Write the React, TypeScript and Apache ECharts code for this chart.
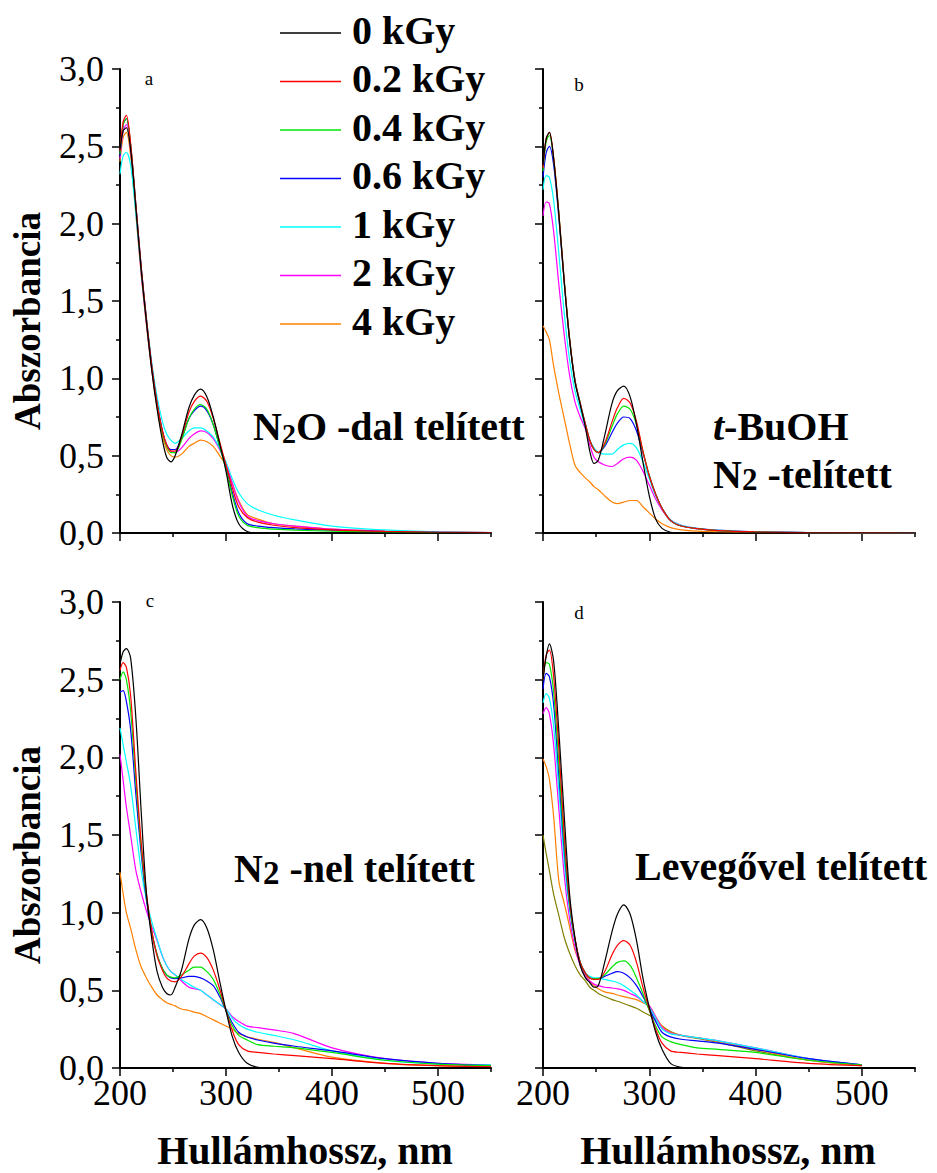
import React, { useEffect, useRef } from 'react';
import * as echarts from 'echarts';

const FONT = 'Liberation Serif';

const doseLabels = ['0 kGy', '0.2 kGy', '0.4 kGy', '0.6 kGy', '1 kGy', '2 kGy', '4 kGy'];
const doseColors = ['#000000', '#ff0000', '#00e600', '#0000ff', '#00ffff', '#ff00ff', '#ff8000'];
const extraColor = '#808000';

const xMajorTicks = [200, 300, 400, 500];
const xMinorTicks = [250, 350, 450, 550];

const wavelengths = [200, 203, 206, 210, 215, 220, 225, 230, 235, 240, 244, 248, 252, 258, 265, 270, 276, 282, 288, 294, 300, 306, 312, 320, 330, 345, 365, 400, 450, 500, 550];
const wavelengthsAir = [200, 203, 206, 210, 215, 220, 225, 230, 235, 240, 244, 248, 252, 258, 265, 270, 276, 282, 288, 294, 300, 306, 312, 320, 330, 345, 365, 400, 450, 500];

// a: N2O-dal telített
const n2oCurves = [
  [2.48, 2.60, 2.62, 2.48, 2.10, 1.70, 1.36, 1.05, 0.80, 0.60, 0.49, 0.46, 0.50, 0.63, 0.81, 0.89, 0.93, 0.88, 0.75, 0.58, 0.40, 0.18, 0.06, 0.01, 0, 0, 0, 0, 0, 0, 0],
  [2.47, 2.66, 2.70, 2.52, 2.12, 1.72, 1.38, 1.08, 0.84, 0.66, 0.57, 0.53, 0.53, 0.62, 0.78, 0.85, 0.885, 0.85, 0.74, 0.59, 0.44, 0.29, 0.17, 0.10, 0.07, 0.05, 0.035, 0.02, 0.01, 0.005, 0.002],
  [2.45, 2.64, 2.68, 2.51, 2.11, 1.71, 1.37, 1.07, 0.83, 0.65, 0.56, 0.52, 0.52, 0.60, 0.74, 0.80, 0.83, 0.80, 0.70, 0.56, 0.41, 0.24, 0.11, 0.05, 0.035, 0.025, 0.018, 0.012, 0.006, 0.003, 0.001],
  [2.44, 2.64, 2.68, 2.51, 2.12, 1.72, 1.38, 1.08, 0.84, 0.66, 0.57, 0.54, 0.54, 0.61, 0.74, 0.79, 0.82, 0.79, 0.70, 0.56, 0.42, 0.26, 0.13, 0.06, 0.045, 0.035, 0.027, 0.018, 0.009, 0.004, 0.002],
  [2.32, 2.44, 2.46, 2.38, 2.06, 1.70, 1.38, 1.10, 0.88, 0.72, 0.64, 0.60, 0.58, 0.61, 0.66, 0.68, 0.68, 0.66, 0.62, 0.55, 0.46, 0.35, 0.26, 0.19, 0.15, 0.115, 0.085, 0.045, 0.02, 0.008, 0.003],
  [2.42, 2.60, 2.64, 2.48, 2.08, 1.68, 1.35, 1.06, 0.83, 0.66, 0.57, 0.53, 0.52, 0.55, 0.61, 0.64, 0.66, 0.65, 0.61, 0.54, 0.45, 0.32, 0.20, 0.11, 0.08, 0.06, 0.045, 0.025, 0.012, 0.006, 0.003],
  [2.40, 2.56, 2.59, 2.44, 2.06, 1.67, 1.34, 1.05, 0.81, 0.63, 0.54, 0.50, 0.49, 0.51, 0.56, 0.58, 0.60, 0.59, 0.56, 0.50, 0.44, 0.32, 0.21, 0.12, 0.09, 0.06, 0.045, 0.025, 0.012, 0.006, 0.003],
];

// b: t-BuOH, N2-telített
const tbuohCurves = [
  [2.38, 2.55, 2.59, 2.42, 2.05, 1.62, 1.25, 0.98, 0.83, 0.68, 0.53, 0.45, 0.47, 0.63, 0.84, 0.92, 0.95, 0.88, 0.70, 0.46, 0.24, 0.09, 0.03, 0.005, 0, 0, 0, 0, 0, 0, 0],
  [2.36, 2.55, 2.59, 2.43, 2.06, 1.63, 1.26, 0.99, 0.84, 0.70, 0.60, 0.54, 0.52, 0.58, 0.72, 0.81, 0.87, 0.84, 0.72, 0.53, 0.37, 0.25, 0.16, 0.08, 0.045, 0.028, 0.015, 0.007, 0.002, 0.001, 0],
  [2.34, 2.53, 2.57, 2.42, 2.06, 1.63, 1.26, 0.99, 0.84, 0.70, 0.60, 0.54, 0.52, 0.57, 0.69, 0.77, 0.82, 0.80, 0.70, 0.53, 0.37, 0.25, 0.16, 0.08, 0.045, 0.028, 0.015, 0.007, 0.002, 0.001, 0],
  [2.30, 2.46, 2.50, 2.38, 2.03, 1.62, 1.25, 0.99, 0.84, 0.70, 0.60, 0.54, 0.52, 0.56, 0.65, 0.71, 0.75, 0.74, 0.66, 0.52, 0.37, 0.25, 0.16, 0.08, 0.045, 0.028, 0.015, 0.007, 0.002, 0.001, 0],
  [2.22, 2.31, 2.30, 2.15, 1.80, 1.42, 1.12, 0.92, 0.80, 0.68, 0.60, 0.55, 0.52, 0.51, 0.51, 0.54, 0.57, 0.58, 0.55, 0.46, 0.35, 0.24, 0.16, 0.085, 0.05, 0.03, 0.018, 0.008, 0.003, 0.001, 0],
  [2.05, 2.14, 2.13, 1.95, 1.60, 1.28, 1.02, 0.85, 0.75, 0.67, 0.57, 0.49, 0.46, 0.44, 0.43, 0.45, 0.48, 0.49, 0.47, 0.40, 0.31, 0.22, 0.15, 0.085, 0.05, 0.03, 0.018, 0.008, 0.003, 0.001, 0],
  [1.34, 1.30, 1.25, 1.08, 0.90, 0.74, 0.58, 0.44, 0.39, 0.355, 0.33, 0.30, 0.28, 0.24, 0.20, 0.19, 0.20, 0.21, 0.21, 0.17, 0.13, 0.09, 0.06, 0.035, 0.02, 0.012, 0.007, 0.003, 0.001, 0, 0],
];

// c: N2-nel telített
const n2Curves = [
  [2.60, 2.68, 2.70, 2.64, 2.25, 1.65, 1.12, 0.83, 0.62, 0.52, 0.48, 0.47, 0.52, 0.63, 0.83, 0.92, 0.955, 0.90, 0.76, 0.56, 0.37, 0.20, 0.10, 0.03, 0.005, 0, 0, 0, 0, 0, 0],
  [2.56, 2.61, 2.58, 2.40, 1.90, 1.45, 1.12, 0.88, 0.72, 0.63, 0.58, 0.56, 0.555, 0.59, 0.67, 0.72, 0.74, 0.71, 0.63, 0.51, 0.37, 0.24, 0.15, 0.11, 0.10, 0.09, 0.08, 0.06, 0.03, 0.015, 0.008],
  [2.50, 2.55, 2.50, 2.30, 1.84, 1.42, 1.10, 0.88, 0.73, 0.64, 0.60, 0.585, 0.58, 0.60, 0.63, 0.65, 0.65, 0.62, 0.57, 0.48, 0.37, 0.27, 0.21, 0.18, 0.15, 0.14, 0.13, 0.10, 0.05, 0.025, 0.015],
  [2.42, 2.43, 2.36, 2.18, 1.76, 1.38, 1.08, 0.87, 0.73, 0.64, 0.60, 0.58, 0.575, 0.58, 0.59, 0.59, 0.58, 0.56, 0.53, 0.46, 0.37, 0.29, 0.23, 0.20, 0.18, 0.16, 0.14, 0.11, 0.06, 0.03, 0.015],
  [2.19, 2.08, 1.97, 1.82, 1.54, 1.27, 1.08, 0.94, 0.83, 0.72, 0.66, 0.62, 0.60, 0.57, 0.54, 0.52, 0.50, 0.47, 0.44, 0.41, 0.38, 0.32, 0.28, 0.25, 0.23, 0.21, 0.18, 0.11, 0.05, 0.025, 0.02],
  [2.02, 1.85, 1.68, 1.50, 1.27, 1.13, 1.01, 0.91, 0.82, 0.72, 0.66, 0.62, 0.60, 0.56, 0.52, 0.51, 0.50, 0.47, 0.44, 0.41, 0.38, 0.33, 0.30, 0.27, 0.26, 0.245, 0.22, 0.13, 0.06, 0.03, 0.02],
  [1.26, 1.12, 1.00, 0.90, 0.76, 0.65, 0.58, 0.52, 0.47, 0.44, 0.42, 0.41, 0.40, 0.38, 0.37, 0.36, 0.35, 0.33, 0.31, 0.29, 0.27, 0.25, 0.22, 0.20, 0.185, 0.165, 0.13, 0.07, 0.03, 0.015, 0.01],
];

// d: Levegővel telített (last curve: extra olive trace)
const airCurves = [
  [2.50, 2.65, 2.73, 2.62, 2.16, 1.62, 1.12, 0.84, 0.66, 0.58, 0.55, 0.52, 0.53, 0.68, 0.88, 0.99, 1.05, 0.99, 0.82, 0.58, 0.39, 0.23, 0.12, 0.03, 0.005, 0, 0, 0, 0, 0],
  [2.50, 2.66, 2.69, 2.52, 2.05, 1.50, 1.08, 0.84, 0.68, 0.61, 0.58, 0.57, 0.57, 0.62, 0.73, 0.79, 0.82, 0.79, 0.68, 0.52, 0.38, 0.25, 0.16, 0.11, 0.10, 0.09, 0.08, 0.06, 0.03, 0.015],
  [2.50, 2.61, 2.60, 2.42, 1.95, 1.44, 1.06, 0.83, 0.68, 0.61, 0.58, 0.575, 0.575, 0.60, 0.65, 0.68, 0.69, 0.66, 0.58, 0.48, 0.37, 0.27, 0.20, 0.17, 0.15, 0.13, 0.12, 0.10, 0.05, 0.02],
  [2.44, 2.54, 2.52, 2.34, 1.88, 1.40, 1.05, 0.83, 0.68, 0.61, 0.58, 0.575, 0.575, 0.59, 0.61, 0.62, 0.61, 0.58, 0.53, 0.46, 0.38, 0.30, 0.23, 0.20, 0.185, 0.175, 0.16, 0.12, 0.06, 0.02],
  [2.35, 2.41, 2.38, 2.20, 1.78, 1.33, 1.02, 0.82, 0.68, 0.61, 0.59, 0.58, 0.58, 0.57, 0.56, 0.55, 0.53, 0.50, 0.47, 0.43, 0.39, 0.32, 0.25, 0.22, 0.21, 0.195, 0.175, 0.13, 0.06, 0.02],
  [2.28, 2.32, 2.28, 2.08, 1.66, 1.24, 0.96, 0.78, 0.66, 0.59, 0.56, 0.54, 0.53, 0.52, 0.515, 0.51, 0.50, 0.48, 0.46, 0.43, 0.40, 0.33, 0.26, 0.225, 0.21, 0.195, 0.175, 0.13, 0.06, 0.02],
  [1.99, 1.94, 1.86, 1.62, 1.20, 1.06, 0.91, 0.76, 0.67, 0.60, 0.56, 0.53, 0.51, 0.49, 0.48, 0.47, 0.46, 0.45, 0.44, 0.42, 0.40, 0.33, 0.27, 0.23, 0.21, 0.195, 0.17, 0.12, 0.05, 0.015],
  [1.50, 1.38, 1.27, 1.12, 0.98, 0.84, 0.74, 0.66, 0.60, 0.56, 0.52, 0.50, 0.48, 0.46, 0.44, 0.43, 0.415, 0.40, 0.385, 0.36, 0.34, 0.31, 0.27, 0.235, 0.21, 0.19, 0.165, 0.11, 0.05, 0.015],
];

const panelLetters = ['a', 'b', 'c', 'd'];
const yAxisTitle = 'Abszorbancia';
const xAxisTitle = 'Hullámhossz, nm';

const panels = [
  { curves: n2oCurves, x: wavelengths, grid: { left: 120, top: 69, width: 371, height: 464 }, showX: false, showY: true, letter: [149, 78] },
  { curves: tbuohCurves, x: wavelengths, grid: { left: 543, top: 69, width: 372, height: 464 }, showX: false, showY: false, letter: [579, 84] },
  { curves: n2Curves, x: wavelengths, grid: { left: 120, top: 602, width: 371, height: 466 }, showX: true, showY: true, letter: [150, 600] },
  { curves: airCurves, x: wavelengthsAir, grid: { left: 543, top: 602, width: 372, height: 466 }, showX: true, showY: false, letter: [579, 612] },
];

const AXIS_COLOR = '#000';

function textEl(x: number, y: number, text: string, size: number, bold: boolean, extra: any = {}) {
  return {
    type: 'text',
    x,
    y,
    silent: true,
    ...extra,
    style: {
      text,
      fontSize: size,
      fontWeight: bold ? 'bold' : 'normal',
      fontFamily: FONT,
      fill: '#000',
      align: extra.align || 'left',
      textAlign: extra.align || 'left',
      verticalAlign: 'middle',
      textVerticalAlign: 'middle',
      ...(extra.style || {}),
    },
  };
}

export default function App() {
  const ref = useRef<HTMLDivElement>(null);

  useEffect(() => {
    if (!ref.current) return;
    const chart = echarts.init(ref.current, null, { renderer: 'svg' });

    const grid: any[] = [];
    const xAxis: any[] = [];
    const yAxis: any[] = [];
    const series: any[] = [];

    const tickLabelStyle = {
      fontSize: 36,
      fontFamily: FONT,
      fontWeight: 'normal',
      fontStyle: 'normal',
      color: '#000',
    };

    panels.forEach((p, pi) => {
      grid.push({ ...p.grid, containLabel: false });
      xAxis.push({
        type: 'value',
        gridIndex: pi,
        position: 'bottom',
        min: 200,
        max: 550,
        interval: 100,
        axisLine: { show: true, onZero: false, lineStyle: { color: AXIS_COLOR, width: 2 } },
        axisTick: { show: true, inside: false, length: 8, customValues: xMajorTicks, lineStyle: { color: AXIS_COLOR, width: 1.5 } },
        minorTick: { show: false },
        splitLine: { show: false },
        axisLabel: {
          show: p.showX,
          customValues: xMajorTicks,
          ...tickLabelStyle,
          margin: 7,
          formatter: (v: number) => (v === 550 ? '' : String(v)),
        },
      });
      xAxis.push({
        type: 'value',
        gridIndex: pi,
        position: 'bottom',
        min: 200,
        max: 550,
        interval: 50,
        axisLine: { show: false, onZero: false },
        axisTick: { show: true, inside: false, length: 4, customValues: xMinorTicks, lineStyle: { color: AXIS_COLOR, width: 1.5 } },
        splitLine: { show: false },
        axisLabel: { show: false },
      });
      yAxis.push({
        type: 'value',
        gridIndex: pi,
        position: 'left',
        min: 0,
        max: 3,
        interval: 0.5,
        axisLine: { show: true, onZero: false, lineStyle: { color: AXIS_COLOR, width: 2 } },
        axisTick: { show: true, inside: false, length: 8, lineStyle: { color: AXIS_COLOR, width: 1.5 } },
        minorTick: { show: true, splitNumber: 2, length: 4, lineStyle: { color: AXIS_COLOR, width: 1.5 } },
        splitLine: { show: false },
        minorSplitLine: { show: false },
        axisLabel: {
          show: p.showY,
          ...tickLabelStyle,
          margin: 16,
          formatter: (v: number) => v.toFixed(1).replace('.', ','),
        },
      });

      const colors = p.curves.length > doseColors.length ? [...doseColors, extraColor] : doseColors;
      for (let ci = p.curves.length - 1; ci >= 0; ci--) {
        const vals = p.curves[ci];
        series.push({
          type: 'line',
          name: ci < doseLabels.length ? doseLabels[ci] : 'extra',
          xAxisIndex: pi * 2,
          yAxisIndex: pi,
          data: p.x.map((w, i) => [w, vals[i]]),
          showSymbol: false,
          symbol: 'none',
          smooth: 0.3,
          silent: true,
          lineStyle: { color: colors[ci], width: 1.2 },
          z: 3,
        });
      }
    });

    const graphic: any[] = [];
    // legend
    const legendTop = 33;
    const legendStep = 48.5;
    doseLabels.forEach((label, i) => {
      const y = legendTop + i * legendStep;
      graphic.push({
        type: 'line',
        silent: true,
        shape: { x1: 280, y1: y, x2: 341, y2: y },
        style: { stroke: doseColors[i], lineWidth: i === 0 ? 1.6 : 1.4 },
      });
      graphic.push(textEl(352, y - 3, label, 40, true));
    });

    // panel letters
    panels.forEach((p, pi) => {
      graphic.push(textEl(p.letter[0], p.letter[1], panelLetters[pi], 19, false, { align: 'center' }));
    });

    // axis titles
    graphic.push(textEl(27, 321, yAxisTitle, 37, true, { align: 'center', rotation: Math.PI / 2 }));
    graphic.push(textEl(27, 855, yAxisTitle, 37, true, { align: 'center', rotation: Math.PI / 2 }));
    graphic.push(textEl(305, 1150, xAxisTitle, 40, true, { align: 'center' }));
    graphic.push(textEl(728, 1150, xAxisTitle, 40, true, { align: 'center' }));

    // annotations
    const subStyle = (lh: number, size: number) => ({ fontSize: size, fontWeight: 'bold', fontFamily: FONT, fill: '#000', lineHeight: lh, verticalAlign: 'bottom' });
    graphic.push(textEl(253, 426, 'N{s|2}O -dal telített', 40, true, {
      style: { lineHeight: 42, rich: { s: subStyle(14, 28) } },
    }));
    graphic.push(textEl(713, 426, '{i|t}-BuOH', 40, true, {
      style: { lineHeight: 42, rich: { i: { fontSize: 40, fontWeight: 'bold', fontStyle: 'italic', fontFamily: FONT, fill: '#000' } } },
    }));
    graphic.push(textEl(713, 474, 'N{s|2} -telített', 40, true, {
      style: { lineHeight: 42, rich: { s: subStyle(24, 31) } },
    }));
    graphic.push(textEl(234, 868, 'N{s|2} -nel telített', 40, true, {
      style: { lineHeight: 42, rich: { s: subStyle(28, 33) } },
    }));
    graphic.push(textEl(635, 866, 'Levegővel telített', 40, true));

    chart.setOption({
      animation: false,
      backgroundColor: '#ffffff',
      textStyle: { fontFamily: FONT },
      grid,
      xAxis,
      yAxis,
      series,
      graphic,
    });

    return () => {
      chart.dispose();
    };
  }, []);

  return (
    <div
      ref={ref}
      style={{ position: 'fixed', left: 0, top: 0, width: 937, height: 1173, background: '#fff' }}
    />
  );
}
